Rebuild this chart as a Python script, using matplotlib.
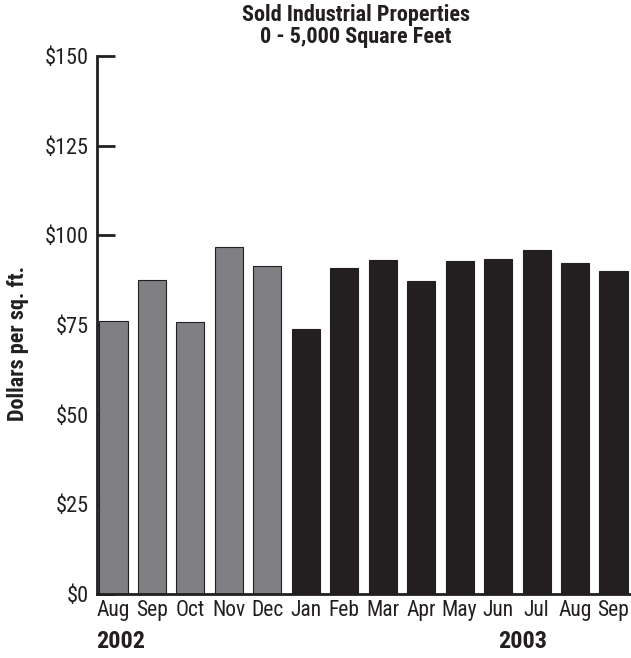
import matplotlib
matplotlib.use("Agg")
import matplotlib.pyplot as plt
from matplotlib.ticker import FuncFormatter

plt.rcParams['font.family'] = ['Roboto Condensed', 'DejaVu Sans']

months = ["Aug", "Sep", "Oct", "Nov", "Dec", "Jan", "Feb", "Mar", "Apr",
          "May", "Jun", "Jul", "Aug", "Sep"]
price = [76.2, 87.6, 75.9, 96.7, 91.5, 73.9, 90.8, 93.0, 87.2, 92.9,
         93.4, 95.8, 92.2, 90.0]
year = [2002] * 5 + [2003] * 9

grey = "#808084"
black = "#231f20"
colors = [grey if y == 2002 else black for y in year]

fig = plt.figure(figsize=(6.31, 6.58), dpi=100)
W, H = 631, 658
ax = fig.add_axes([97 / W, 1 - 594 / H, (630 - 97) / W, (594 - 56) / H])

x = list(range(len(months)))
ax.bar(x, price, width=0.73, color=colors, edgecolor=black, linewidth=0.8,
       zorder=2)

ax.set_xlim(-0.43, 13.43)
ax.set_ylim(0, 150)
ax.set_yticks([0, 25, 50, 75, 100, 125, 150])
ax.yaxis.set_major_formatter(FuncFormatter(lambda v, p: "$%d" % v))
ax.tick_params(axis='y', direction='in', length=13, width=2, color=black,
               labelsize=16, pad=6, labelcolor=black)
ax.set_xticks(x)
ax.set_xticklabels(months)
ax.tick_params(axis='x', length=0, labelsize=15.5, pad=4, labelcolor=black)

for side in ["top", "right"]:
    ax.spines[side].set_visible(False)
for side in ["left", "bottom"]:
    ax.spines[side].set_linewidth(2)
    ax.spines[side].set_color(black)

# year markers under the month labels
ax.text(-0.45, -0.089, "2002", transform=ax.get_xaxis_transform(),
        ha="left", va="center", fontsize=17.5, fontweight="bold", color=black)
ax.text(10.63, -0.089, "2003", transform=ax.get_xaxis_transform(),
        ha="center", va="center", fontsize=17.5, fontweight="bold", color=black)

fig.text(18 / W, 1 - 343 / H, "Dollars per sq. ft.", rotation=90,
         ha="center", va="center", fontsize=16, fontweight="bold", color=black)
fig.text(356 / W, 1 - 15 / H, "Sold Industrial Properties", ha="center",
         va="center", fontsize=16, fontweight="bold", color=black)
fig.text(356 / W, 1 - 37 / H, "0 - 5,000 Square Feet", ha="center",
         va="center", fontsize=16, fontweight="bold", color=black)

fig.savefig("out.png", dpi=100)
